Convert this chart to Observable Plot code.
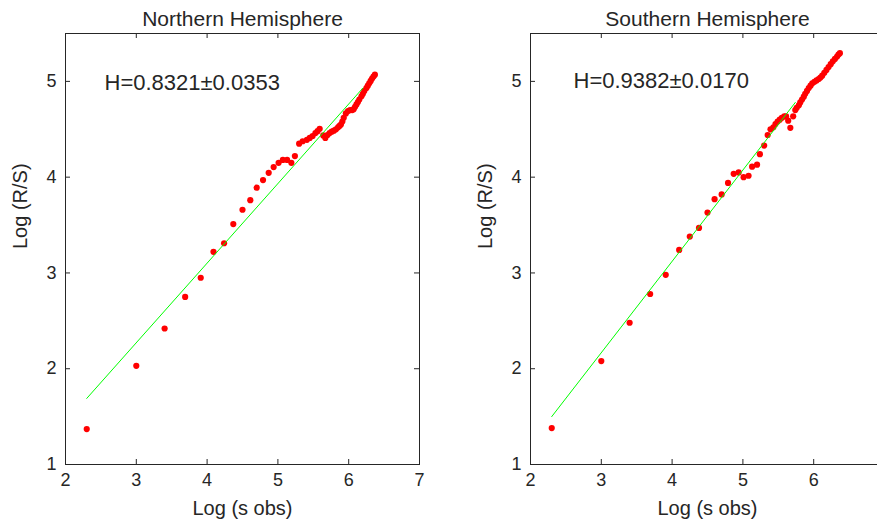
<!DOCTYPE html>
<html><head><meta charset="utf-8">
<script src="https://cdn.jsdelivr.net/npm/d3@7"></script>
<script src="https://cdn.jsdelivr.net/npm/@observablehq/plot@0.6"></script>
<style>
html,body{margin:0;padding:0;background:#fff;overflow:hidden;}
#wrap{position:relative;width:877px;height:524px;overflow:hidden;background:#fff;}
#wrap svg{position:absolute;top:0;}
</style></head><body><div id="wrap"></div>
<script>
const xTicks = [2, 3, 4, 5, 6, 7];
const yTicks = [1, 2, 3, 4, 5];
const northTickLabels = [2, 3, 4, 5, 6, 7];
const southTickLabels = [2, 3, 4, 5, 6];
const titles = ["Northern Hemisphere", "Southern Hemisphere"];
const hLabels = ["H=0.8321\u00b10.0353", "H=0.9382\u00b10.0170"];
const xLabel = "Log (s obs)";
const yLabel = "Log (R/S)";

const northX = [2.30, 3.00, 3.40, 3.69, 3.91, 4.09, 4.24, 4.37, 4.50, 4.61, 4.70, 4.79, 4.87, 4.94, 5.01, 5.07, 5.13, 5.19, 5.24, 5.30, 5.35, 5.41, 5.45, 5.49, 5.53, 5.56, 5.59, 5.64, 5.67, 5.70, 5.73, 5.76, 5.79, 5.82, 5.85, 5.87, 5.89, 5.91, 5.93, 5.96, 5.99, 6.02, 6.05, 6.07, 6.09, 6.11, 6.13, 6.15, 6.18, 6.20, 6.22, 6.25, 6.27, 6.29, 6.31, 6.33, 6.35, 6.37];
const northY = [1.37, 2.03, 2.42, 2.75, 2.95, 3.22, 3.31, 3.51, 3.66, 3.76, 3.89, 3.97, 4.045, 4.105, 4.15, 4.18, 4.18, 4.15, 4.22, 4.35, 4.375, 4.39, 4.41, 4.43, 4.46, 4.48, 4.505, 4.436, 4.41, 4.44, 4.46, 4.475, 4.485, 4.50, 4.52, 4.535, 4.55, 4.58, 4.62, 4.665, 4.69, 4.70, 4.70, 4.71, 4.735, 4.76, 4.785, 4.81, 4.845, 4.87, 4.90, 4.93, 4.955, 4.98, 5.005, 5.03, 5.05, 5.07];
const northFitX = [2.30, 6.20];
const northFitY = [1.69, 4.93];

const southX = [2.30, 3.00, 3.40, 3.69, 3.91, 4.10, 4.25, 4.38, 4.50, 4.60, 4.70, 4.79, 4.87, 4.94, 5.01, 5.08, 5.13, 5.20, 5.24, 5.30, 5.35, 5.39, 5.43, 5.46, 5.49, 5.52, 5.55, 5.585, 5.61, 5.64, 5.67, 5.71, 5.74, 5.76, 5.79, 5.81, 5.835, 5.86, 5.88, 5.905, 5.93, 5.955, 5.98, 6.01, 6.04, 6.07, 6.095, 6.12, 6.15, 6.18, 6.21, 6.24, 6.27, 6.30, 6.33, 6.35, 6.37];
const southY = [1.38, 2.08, 2.48, 2.78, 2.98, 3.24, 3.38, 3.47, 3.63, 3.77, 3.82, 3.94, 4.035, 4.05, 4.00, 4.015, 4.11, 4.13, 4.24, 4.33, 4.44, 4.50, 4.52, 4.555, 4.58, 4.60, 4.62, 4.635, 4.635, 4.59, 4.515, 4.635, 4.70, 4.725, 4.75, 4.78, 4.81, 4.84, 4.87, 4.90, 4.93, 4.955, 4.98, 4.995, 5.01, 5.025, 5.04, 5.06, 5.09, 5.12, 5.15, 5.18, 5.21, 5.235, 5.26, 5.28, 5.295];
const southFitX = [2.30, 5.74];
const southFitY = [1.50, 4.78];

const ink = "#262626";
const font = "'Liberation Sans', Arial, Helvetica, sans-serif";

function panel(title, hText, xs, ys, fx, fy, tickLabels, hdx, hdy) {
  const pts = xs.map((x, i) => ({x, y: ys[i]}));
  const fit = fx.map((x, i) => ({x, y: fy[i]}));
  const W = 440, H = 524, mL = 65, mR = 21, mT = 33, mB = 60;
  const innerW = W - mL - mR, innerH = H - mT - mB;
  return Plot.plot({
    width: W, height: H,
    marginLeft: mL, marginRight: mR, marginTop: mT, marginBottom: mB,
    style: {fontFamily: font, color: ink, background: "transparent", overflow: "visible"},
    x: {domain: [2, 7]},
    y: {domain: [1, 5.5]},
    marks: [
      Plot.dot(pts, {x: "x", y: "y", r: 3.1, fill: "#ff0000", stroke: "none"}),
      Plot.line(fit, {x: "x", y: "y", stroke: "#00ff00", strokeWidth: 1}),
      Plot.ruleX(xTicks, {stroke: ink, insetTop: innerH - 5}),
      Plot.ruleX(xTicks, {stroke: ink, insetBottom: innerH - 5}),
      Plot.ruleY(yTicks, {stroke: ink, insetRight: innerW - 5}),
      Plot.ruleY(yTicks, {stroke: ink, insetLeft: innerW - 5}),
      Plot.frame({stroke: ink, strokeWidth: 1}),
      Plot.axisX({ticks: tickLabels, tickSize: 0, tickPadding: 9, fontSize: 18, label: null, tickFormat: d => String(d)}),
      Plot.axisY({ticks: yTicks, tickSize: 0, tickPadding: 9, fontSize: 18, label: null, tickFormat: d => String(d)}),
      Plot.text([title], {text: d => d, frameAnchor: "top", lineAnchor: "bottom", dy: -8, fontSize: 21, fill: ink}),
      Plot.text([xLabel], {text: d => d, frameAnchor: "bottom", lineAnchor: "bottom", dy: 50, fontSize: 20, fill: ink}),
      Plot.text([yLabel], {text: d => d, frameAnchor: "left", lineAnchor: "top", rotate: -90, dx: -53, fontSize: 20, fill: ink}),
      Plot.text([hText], {text: d => d, frameAnchor: "top-left", textAnchor: "start", lineAnchor: "middle", dx: hdx, dy: hdy, fontSize: 22, fill: ink})
    ]
  });
}

const wrap = document.getElementById("wrap");
const left = panel(titles[0], hLabels[0], northX, northY, northFitX, northFitY, northTickLabels, 39, 49);
left.style.left = "0px";
wrap.appendChild(left);
const right = panel(titles[1], hLabels[1], southX, southY, southFitX, southFitY, southTickLabels, 43, 47);
right.style.left = "465px";
wrap.appendChild(right);
</script></body></html>
